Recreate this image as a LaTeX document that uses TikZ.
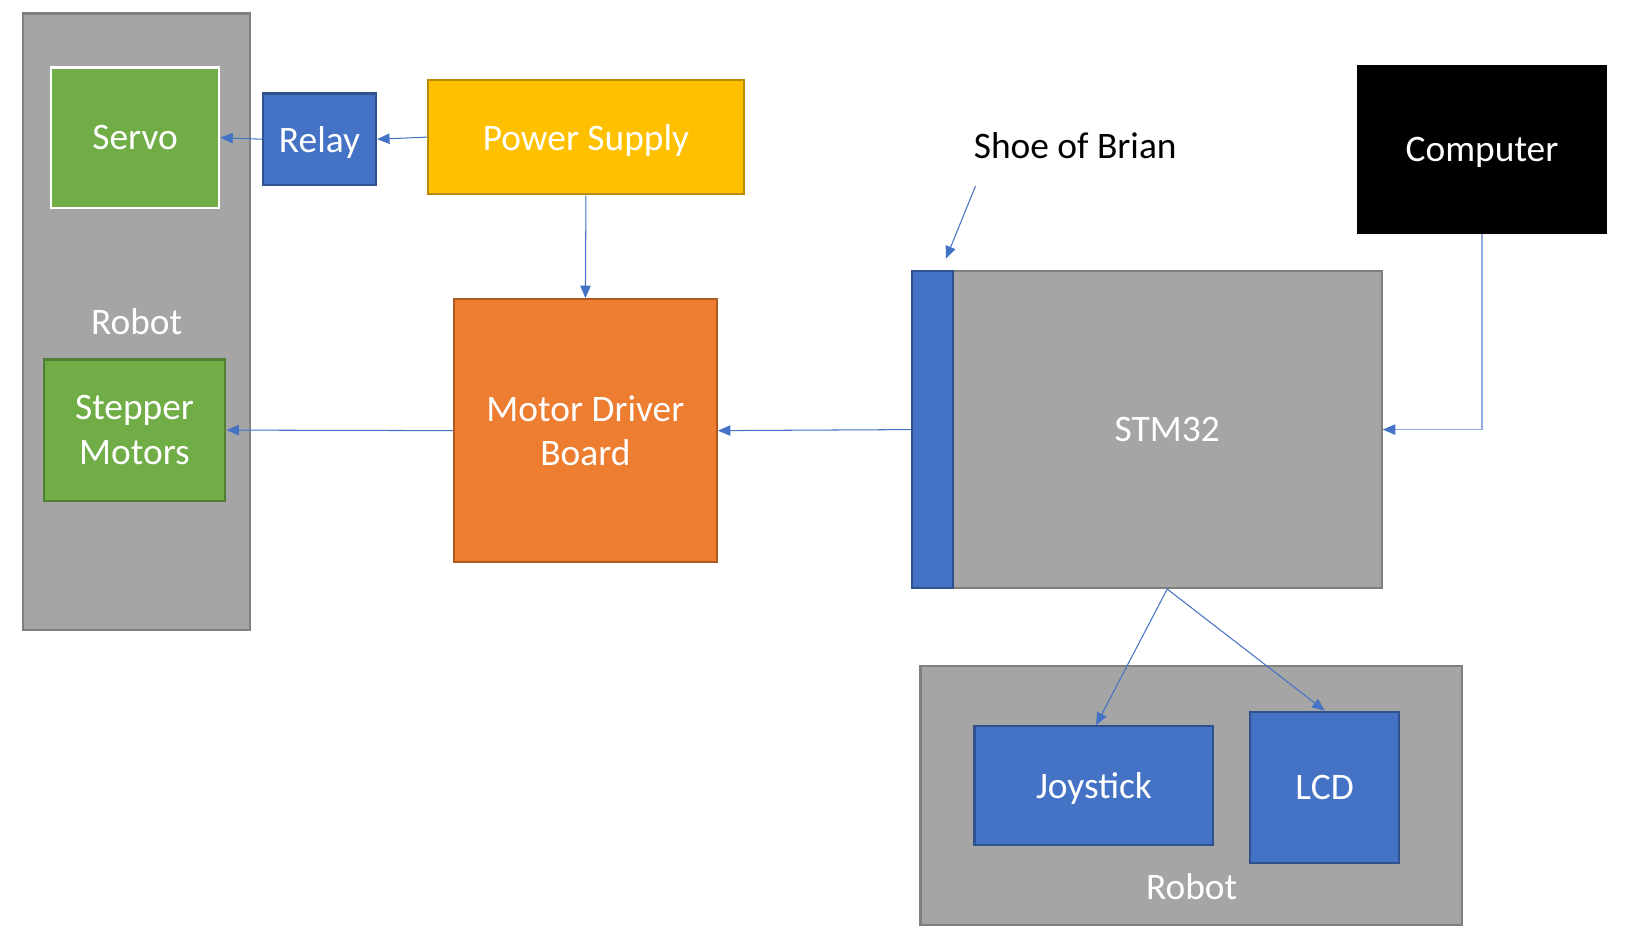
\documentclass[tikz,border=0pt]{standalone}
\usepackage{fontspec}
\setmainfont{Carlito}
\usetikzlibrary{arrows.meta}
\definecolor{robotgray}{HTML}{A5A5A5}
\definecolor{robotedge}{HTML}{7F7F7F}
\definecolor{partgreen}{HTML}{70AD47}
\definecolor{greenedge}{HTML}{507E32}
\definecolor{partblue}{HTML}{4472C4}
\definecolor{blueedge}{HTML}{2F528F}
\definecolor{supplygold}{HTML}{FFC000}
\definecolor{goldedge}{HTML}{BC8C00}
\definecolor{driverorange}{HTML}{ED7D31}
\definecolor{orangeedge}{HTML}{AE5A21}
\definecolor{palewire}{HTML}{8FAADC}

\begin{document}
\begin{tikzpicture}[x=1pt,y=-1pt,
  unit/.style={draw,line width=2pt,inner sep=0pt,align=center,text=white,text depth=0pt,
    font=\fontsize{36}{43}\selectfont},
  caption/.style={inner sep=0pt,align=center,text depth=0pt,font=\fontsize{36}{43}\selectfont},
  wire/.style={-{Triangle[length=12pt,width=10pt,color=partblue]},line width=1pt,draw=partblue}]
    \useasboundingbox (0,0) rectangle (1568,915);
    %left robot
    \node[unit,fill=robotgray,draw=robotedge,minimum width=219pt,minimum height=593pt] (robot left) at (131.5,309.5) {Robot};
    \node[unit,fill=partgreen,draw=white,minimum width=162pt,minimum height=135pt] (servo) at (130,132.5) {Servo};
    \node[unit,fill=partgreen,draw=greenedge,minimum width=175pt,minimum height=136pt] (stepper) at (129.5,414) {Stepper\\Motors};
    %power side
    \node[unit,fill=partblue,draw=blueedge,minimum width=109pt,minimum height=88pt] (relay) at (307.5,134) {Relay};
    \node[unit,fill=supplygold,draw=goldedge,minimum width=304pt,minimum height=110pt] (supply) at (564,132) {Power Supply};
    \node[unit,fill=driverorange,draw=orangeedge,minimum width=253pt,minimum height=253pt] (driver) at (563.5,414.5) {Motor Driver\\Board};
    %controller
    \node[unit,fill=robotgray,draw=robotedge,minimum width=413pt,minimum height=305pt] (stm) at (1123.5,413.5) {STM32};
    \node[unit,fill=partblue,draw=blueedge,minimum width=39pt,minimum height=305pt] (shoe) at (897.5,413.5) {};
    \node[caption] (brian) at (1035,140) {Shoe of Brian};
    \coordinate (brian tail) at (939,179);
    \node[unit,fill=black,draw=black,minimum width=239pt,minimum height=160pt] (computer) at (1426.5,144) {Computer};
    %bottom robot
    \node[unit,fill=robotgray,draw=robotedge,minimum width=521pt,minimum height=249pt] (robot bottom) at (1146.5,765.5) {};
    \node[caption,text=white] (robot bottom text) at (1147,853) {Robot};
    \node[unit,fill=partblue,draw=blueedge,minimum width=230pt,minimum height=114pt] (joystick) at (1053,756) {Joystick};
    \node[unit,fill=partblue,draw=blueedge,minimum width=144pt,minimum height=146pt] (lcd) at (1275,758) {LCD};
    %connectors
    \draw[wire] (supply.west) -- (relay.east);
    \draw[wire] (relay.west) -- (servo.east);
    \draw[wire] (supply.south) -- (driver.north);
    \draw[wire] (driver.west) -- (stepper.east);
    \draw[wire] (shoe.west) -- (driver.east);
    \draw[wire] (brian tail) -- ([xshift=13pt,yshift=11pt]shoe.north);
    \draw[wire,draw=palewire] (computer.south) |- (stm.east);
    \draw[wire] (stm.south) -- ([xshift=2pt]joystick.north);
    \draw[wire] (stm.south) -- (lcd.north);
  \end{tikzpicture}
\end{document}
